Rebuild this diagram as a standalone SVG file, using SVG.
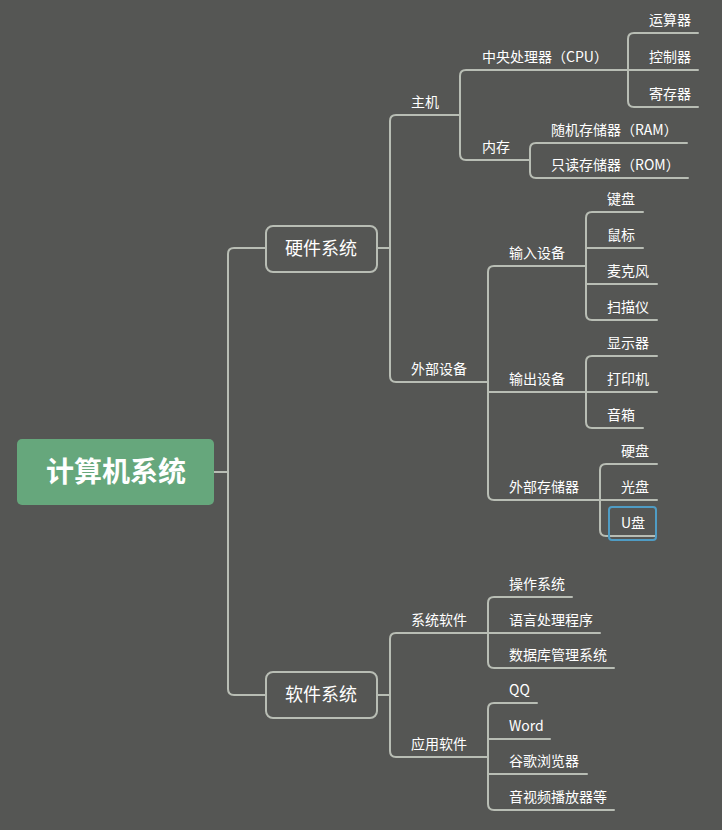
<svg xmlns="http://www.w3.org/2000/svg" width="722" height="830" viewBox="0 0 722 830">
<style>
.ln{fill:none;stroke:#b8bdb4;stroke-width:2;stroke-linecap:round}
.t{font-family:"Noto Sans CJK SC","Microsoft YaHei",sans-serif;font-size:14px;fill:#ffffff}
.bt{font-family:"Noto Sans CJK SC",sans-serif;font-size:18px;fill:#ffffff;text-anchor:middle}
.box{fill:#555654;stroke:#b8bdb4;stroke-width:2}
</style>
<rect width="722" height="830" fill="#555654"/>
<g id="connectors">
<path class="ln" d="M214,472 H228"/>
<path class="ln" d="M266,248 H234 Q228,248 228,254 V689 Q228,695 234,695 H266"/>
<path class="ln" d="M377,248 H390"/>
<path class="ln" d="M460,115 H396 Q390,115 390,121 V376 Q390,382 396,382 H488"/>
<path class="ln" d="M628,70 H466 Q460,70 460,76 V154 Q460,160 466,160 H530"/>
<path class="ln" d="M698,33 H634 Q628,33 628,39 V101 Q628,107 634,107 H698"/>
<path class="ln" d="M628,70 H698"/>
<path class="ln" d="M687,143 H536 Q530,143 530,149 V172 Q530,178 536,178 H688"/>
<path class="ln" d="M586,266 H494 Q488,266 488,272 V494 Q488,500 494,500 H600"/>
<path class="ln" d="M488,392 H586"/>
<path class="ln" d="M643,212 H592 Q586,212 586,218 V314 Q586,320 592,320 H657"/>
<path class="ln" d="M586,248 H643"/>
<path class="ln" d="M586,284 H657"/>
<path class="ln" d="M657,356 H592 Q586,356 586,362 V422 Q586,428 592,428 H643"/>
<path class="ln" d="M586,392 H657"/>
<path class="ln" d="M657,464 H606 Q600,464 600,470 V530 Q600,536 606,536 H656"/>
<path class="ln" d="M600,500 H657"/>
<path class="ln" d="M377,695 H390"/>
<path class="ln" d="M488,633 H396 Q390,633 390,639 V751 Q390,757 396,757 H488"/>
<path class="ln" d="M572,597 H494 Q488,597 488,603 V662 Q488,668 494,668 H614"/>
<path class="ln" d="M488,633 H600"/>
<path class="ln" d="M537,703 H494 Q488,703 488,709 V804 Q488,810 494,810 H614"/>
<path class="ln" d="M488,739 H550"/>
<path class="ln" d="M488,774 H587"/>
</g>
<g id="root">
<rect x="17" y="439" width="197" height="66" rx="5" fill="#66a77c"/>
<text x="116" y="482" font-family="Noto Sans CJK SC,sans-serif" font-size="28" font-weight="bold" fill="#ffffff" text-anchor="middle">计算机系统</text>
</g>
<g id="hardware">
<rect class="box" x="266" y="226" width="111" height="46" rx="7"/>
<text class="bt" x="321" y="255">硬件系统</text>
</g>
<g id="software">
<rect class="box" x="266" y="672" width="111" height="46" rx="7"/>
<text class="bt" x="321" y="701">软件系统</text>
</g>
<g id="host"><text class="t" x="411" y="107">主机</text></g>
<g id="cpu"><text class="t" x="482" y="62">中央处理器（CPU）</text></g>
<g id="alu"><text class="t" x="649" y="25">运算器</text></g>
<g id="cu"><text class="t" x="649" y="62">控制器</text></g>
<g id="reg"><text class="t" x="649" y="99">寄存器</text></g>
<g id="memory"><text class="t" x="482" y="152">内存</text></g>
<g id="ram"><text class="t" x="551" y="135">随机存储器（RAM）</text></g>
<g id="rom"><text class="t" x="551" y="170">只读存储器（ROM）</text></g>
<g id="peripheral"><text class="t" x="411" y="374">外部设备</text></g>
<g id="input"><text class="t" x="509" y="258">输入设备</text></g>
<g id="keyboard"><text class="t" x="607" y="204">键盘</text></g>
<g id="mouse"><text class="t" x="607" y="240">鼠标</text></g>
<g id="mic"><text class="t" x="607" y="276">麦克风</text></g>
<g id="scanner"><text class="t" x="607" y="312">扫描仪</text></g>
<g id="output"><text class="t" x="509" y="384">输出设备</text></g>
<g id="monitor"><text class="t" x="607" y="348">显示器</text></g>
<g id="printer"><text class="t" x="607" y="384">打印机</text></g>
<g id="speaker"><text class="t" x="607" y="420">音箱</text></g>
<g id="storage"><text class="t" x="509" y="492">外部存储器</text></g>
<g id="hdd"><text class="t" x="621" y="456">硬盘</text></g>
<g id="cd"><text class="t" x="621" y="492">光盘</text></g>
<g id="usb">
<rect x="609" y="507" width="47" height="33" rx="3" fill="none" stroke="#4f9cc4" stroke-width="2"/>
<text class="t" x="621" y="528">U盘</text>
</g>
<g id="syssoft"><text class="t" x="411" y="625">系统软件</text></g>
<g id="os"><text class="t" x="509" y="589">操作系统</text></g>
<g id="lang"><text class="t" x="509" y="625">语言处理程序</text></g>
<g id="db"><text class="t" x="509" y="660">数据库管理系统</text></g>
<g id="appsoft"><text class="t" x="411" y="749">应用软件</text></g>
<g id="qq"><text class="t" x="509" y="695">QQ</text></g>
<g id="word"><text class="t" x="509" y="731">Word</text></g>
<g id="chrome"><text class="t" x="509" y="766">谷歌浏览器</text></g>
<g id="player"><text class="t" x="509" y="802">音视频播放器等</text></g>
</svg>
